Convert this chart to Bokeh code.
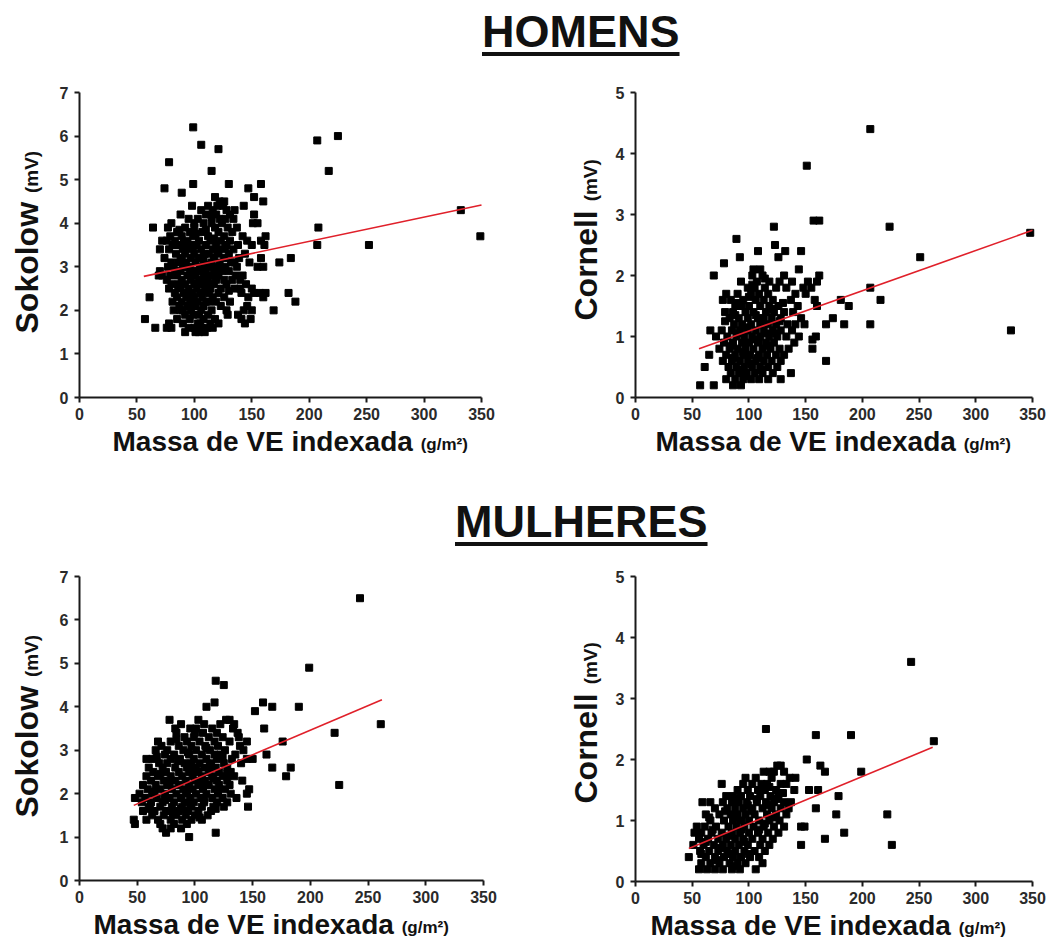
import math
from bokeh.plotting import figure
from bokeh.models import Range1d, FixedTicker, Label, Div
from bokeh.layouts import column, row
from bokeh.embed import file_html
from bokeh.resources import INLINE

# ---------------- data ----------------
x_ticks = [0, 50, 100, 150, 200, 250, 300, 350]
sokolow_ticks = [0, 1, 2, 3, 4, 5, 6, 7]
cornell_ticks = [0, 1, 2, 3, 4, 5]

titles = ["HOMENS", "MULHERES"]
x_title = "Massa de VE indexada"
x_unit = "(g/m²)"
y_unit = "(mV)"

# Homens - Sokolow (x = massa VE indexada, y = mV)
homens_sokolow = [
    (99, 6.2), (106, 5.8), (121, 5.7), (78, 5.4), (115, 5.2), (74, 4.8), (99, 4.9), (89, 4.7),
    (130, 4.9), (147, 4.8), (158, 4.9), (152, 4.6), (160, 4.5), (207, 5.9), (225, 6.0), (217, 5.2),
    (208, 3.9), (207, 3.5), (252, 3.5), (332, 4.3), (349, 3.7), (174, 3.1), (184, 3.2), (182, 2.4),
    (188, 2.2), (169, 2.0), (57, 1.8), (61, 2.3), (64, 3.9), (66, 1.6), (69, 2.8), (70, 2.9),
    (76, 1.6), (92, 1.5),
    (118, 4.6), (122, 4.5), (126, 4.5),
    (98, 4.4), (112, 4.4), (120, 4.4), (125, 4.4), (143, 4.4),
    (106, 4.3), (116, 4.3), (128, 4.3), (135, 4.3),
    (88, 4.2), (110, 4.2), (119, 4.2), (131, 4.2), (152, 4.2),
    (95, 4.1), (103, 4.1), (122, 4.1), (127, 4.1), (134, 4.1),
    (80, 4.0), (108, 4.0), (115, 4.0), (124, 4.0), (151, 4.0), (155, 4.0),
    (77, 3.9), (92, 3.9), (100, 3.9), (118, 3.9), (129, 3.9), (137, 3.9),
    (85, 3.8), (96, 3.8), (107, 3.8), (121, 3.8), (133, 3.8),
    (79, 3.7), (89, 3.7), (99, 3.7), (112, 3.7), (126, 3.7), (142, 3.7), (162, 3.7),
    (72, 3.6), (76, 3.6), (83, 3.6), (94, 3.6), (104, 3.6), (114, 3.6), (123, 3.6), (131, 3.6), (146, 3.6), (158, 3.6),
    (81, 3.5), (87, 3.5), (97, 3.5), (102, 3.5), (110, 3.5), (119, 3.5), (128, 3.5), (138, 3.5), (150, 3.5), (161, 3.5),
    (70, 3.4), (78, 3.4), (90, 3.4), (95, 3.4), (106, 3.4), (116, 3.4), (125, 3.4), (134, 3.4),
    (84, 3.3), (92, 3.3), (100, 3.3), (109, 3.3), (113, 3.3), (121, 3.3), (130, 3.3), (144, 3.3),
    (74, 3.2), (88, 3.2), (97, 3.2), (104, 3.2), (117, 3.2), (126, 3.2), (139, 3.2), (158, 3.2),
    (80, 3.1), (86, 3.1), (93, 3.1), (101, 3.1), (108, 3.1), (115, 3.1), (122, 3.1), (132, 3.1), (148, 3.1),
    (77, 3.0), (90, 3.0), (96, 3.0), (105, 3.0), (112, 3.0), (119, 3.0), (127, 3.0), (137, 3.0), (155, 3.0), (160, 3.0),
    (83, 2.9), (88, 2.9), (99, 2.9), (103, 2.9), (110, 2.9), (117, 2.9), (124, 2.9), (130, 2.9),
    (72, 2.8), (79, 2.8), (85, 2.8), (94, 2.8), (101, 2.8), (108, 2.8), (114, 2.8), (121, 2.8), (136, 2.8), (142, 2.8),
    (76, 2.7), (89, 2.7), (97, 2.7), (106, 2.7), (112, 2.7), (119, 2.7), (126, 2.7), (133, 2.7), (140, 2.7),
    (80, 2.6), (86, 2.6), (92, 2.6), (100, 2.6), (104, 2.6), (111, 2.6), (117, 2.6), (128, 2.6), (145, 2.6),
    (78, 2.5), (88, 2.5), (95, 2.5), (102, 2.5), (109, 2.5), (114, 2.5), (123, 2.5), (135, 2.5), (150, 2.5),
    (83, 2.4), (91, 2.4), (98, 2.4), (105, 2.4), (113, 2.4), (121, 2.4), (141, 2.4), (152, 2.4), (157, 2.4), (162, 2.4),
    (85, 2.3), (93, 2.3), (100, 2.3), (107, 2.3), (116, 2.3), (126, 2.3), (147, 2.3), (160, 2.3),
    (81, 2.2), (89, 2.2), (96, 2.2), (103, 2.2), (110, 2.2), (119, 2.2), (131, 2.2),
    (87, 2.1), (94, 2.1), (101, 2.1), (108, 2.1), (123, 2.1), (146, 2.1),
    (82, 2.0), (90, 2.0), (97, 2.0), (106, 2.0), (115, 2.0), (128, 2.0), (143, 2.0), (150, 2.0),
    (92, 1.9), (99, 1.9), (104, 1.9), (112, 1.9), (129, 1.9), (138, 1.9),
    (85, 1.8), (96, 1.8), (108, 1.8), (118, 1.8), (141, 1.8), (149, 1.8),
    (78, 1.7), (90, 1.7), (103, 1.7), (114, 1.7), (121, 1.7), (144, 1.7),
    (80, 1.6), (95, 1.6), (100, 1.6), (106, 1.6), (111, 1.6), (116, 1.6),
    (101, 1.5), (104, 1.5), (109, 1.5),
    (91, 3.55), (99, 3.45), (108, 3.25), (114, 3.05), (96, 2.85), (104, 2.65), (111, 2.45), (89, 3.15),
    (117, 3.65), (123, 2.95), (86, 2.55), (94, 2.35), (101, 3.75), (107, 2.95), (119, 2.75), (127, 3.45),
    (93, 3.0), (110, 3.85), (98, 2.15), (113, 2.2), (88, 2.0), (105, 1.7), (120, 3.35), (82, 3.0),
    (135, 3.1), (140, 2.5), (100, 4.0), (115, 4.15), (87, 3.85), (130, 2.45),
]

# Homens - Cornell
homens_cornell = [
    (207, 4.4), (151, 3.8), (157, 2.9), (162, 2.9), (122, 2.8), (224, 2.8), (89, 2.6), (251, 2.3),
    (348, 2.7), (331, 1.1), (207, 1.8), (216, 1.6), (207, 1.2), (184, 1.2), (188, 1.5), (181, 1.6),
    (174, 1.3), (168, 1.2), (168, 0.6), (137, 0.4), (57, 0.2), (69, 0.2), (69, 2.0), (78, 2.2),
    (92, 2.3), (108, 2.4), (123, 2.5), (126, 2.3), (132, 2.4), (146, 2.4), (144, 2.1), (162, 2.0),
    (160, 1.9), (158, 1.6), (160, 1.5), (156, 0.95), (156, 0.8), (159, 1.0), (61, 0.5), (65, 0.7),
    (66, 1.1), (77, 1.6),
    (104, 2.1), (110, 2.1),
    (103, 2.0), (112, 2.0), (131, 2.0),
    (93, 1.9), (107, 1.9), (118, 1.9), (127, 1.9), (138, 1.9), (152, 1.9),
    (99, 1.8), (105, 1.8), (114, 1.8), (124, 1.8), (133, 1.8), (148, 1.8), (155, 1.8),
    (80, 1.7), (90, 1.7), (102, 1.7), (109, 1.7), (117, 1.7), (141, 1.7), (150, 1.7),
    (84, 1.6), (95, 1.6), (106, 1.6), (113, 1.6), (121, 1.6), (137, 1.6),
    (88, 1.5), (93, 1.5), (100, 1.5), (110, 1.5), (118, 1.5), (126, 1.5), (143, 1.5),
    (79, 1.4), (86, 1.4), (97, 1.4), (104, 1.4), (115, 1.4), (122, 1.4), (131, 1.4), (139, 1.4),
    (83, 1.3), (91, 1.3), (99, 1.3), (108, 1.3), (113, 1.3), (120, 1.3), (128, 1.3), (146, 1.3),
    (87, 1.2), (94, 1.2), (102, 1.2), (110, 1.2), (117, 1.2), (124, 1.2), (134, 1.2), (141, 1.2), (149, 1.2),
    (76, 1.1), (85, 1.1), (92, 1.1), (99, 1.1), (106, 1.1), (113, 1.1), (121, 1.1), (128, 1.1), (138, 1.1),
    (71, 1.0), (81, 1.0), (89, 1.0), (96, 1.0), (103, 1.0), (110, 1.0), (118, 1.0), (125, 1.0), (133, 1.0), (144, 1.0),
    (78, 0.9), (86, 0.9), (94, 0.9), (100, 0.9), (108, 0.9), (115, 0.9), (122, 0.9), (140, 0.9),
    (74, 0.8), (83, 0.8), (90, 0.8), (97, 0.8), (104, 0.8), (112, 0.8), (119, 0.8), (127, 0.8), (135, 0.8),
    (80, 0.7), (88, 0.7), (95, 0.7), (101, 0.7), (109, 0.7), (116, 0.7), (124, 0.7), (131, 0.7),
    (77, 0.6), (85, 0.6), (92, 0.6), (99, 0.6), (106, 0.6), (113, 0.6), (120, 0.6), (128, 0.6),
    (82, 0.5), (89, 0.5), (96, 0.5), (103, 0.5), (110, 0.5), (117, 0.5), (125, 0.5),
    (84, 0.4), (91, 0.4), (98, 0.4), (105, 0.4), (112, 0.4), (121, 0.4),
    (80, 0.3), (88, 0.3), (95, 0.3), (102, 0.3), (109, 0.3), (117, 0.3), (128, 0.3),
    (86, 0.2), (93, 0.2),
    (90, 1.05), (98, 1.15), (105, 0.95), (112, 1.25), (95, 0.75), (102, 0.55), (108, 0.65), (115, 1.05),
    (88, 1.35), (120, 1.45), (93, 0.45), (100, 1.65), (106, 1.35), (118, 0.85), (84, 0.85), (97, 0.35),
    (111, 0.45), (124, 1.05), (90, 1.55), (103, 1.85), (114, 1.95), (86, 0.65), (130, 1.55), (127, 1.25),
    (79, 1.25),
]

# Mulheres - Sokolow
mulheres_sokolow = [
    (243, 6.5), (199, 4.9), (261, 3.6), (221, 3.4), (225, 2.2), (190, 4.0), (167, 4.0), (159, 4.1),
    (152, 3.9), (160, 3.5), (176, 3.2), (162, 2.9), (167, 2.6), (183, 2.6), (179, 2.4), (118, 4.6),
    (125, 4.5), (110, 4.0), (117, 4.1), (95, 1.0), (118, 1.1), (75, 1.1), (48, 1.3), (47, 1.4),
    (48, 1.9), (58, 2.8), (146, 1.7), (147, 2.1), (145, 2.0), (141, 2.3), (150, 2.8), (145, 3.2),
    (138, 3.3),
    (78, 3.7), (103, 3.7), (127, 3.7), (130, 3.7),
    (88, 3.6), (108, 3.6), (122, 3.6), (134, 3.6),
    (83, 3.5), (96, 3.5), (101, 3.5), (115, 3.5), (133, 3.5),
    (84, 3.4), (107, 3.4), (119, 3.4), (137, 3.4),
    (91, 3.3), (99, 3.3), (112, 3.3), (124, 3.3),
    (68, 3.2), (79, 3.2), (93, 3.2), (104, 3.2), (117, 3.2), (130, 3.2),
    (71, 3.1), (86, 3.1), (97, 3.1), (109, 3.1), (120, 3.1), (139, 3.1),
    (66, 3.0), (76, 3.0), (90, 3.0), (101, 3.0), (113, 3.0), (126, 3.0), (142, 3.0),
    (74, 2.9), (82, 2.9), (95, 2.9), (106, 2.9), (117, 2.9), (122, 2.9), (135, 2.9),
    (63, 2.8), (79, 2.8), (87, 2.8), (99, 2.8), (110, 2.8), (119, 2.8), (132, 2.8), (145, 2.8),
    (69, 2.7), (76, 2.7), (91, 2.7), (97, 2.7), (104, 2.7), (114, 2.7), (125, 2.7), (140, 2.7),
    (60, 2.6), (72, 2.6), (83, 2.6), (93, 2.6), (101, 2.6), (108, 2.6), (118, 2.6), (128, 2.6),
    (64, 2.5), (75, 2.5), (86, 2.5), (95, 2.5), (103, 2.5), (112, 2.5), (121, 2.5), (131, 2.5),
    (58, 2.4), (68, 2.4), (79, 2.4), (89, 2.4), (98, 2.4), (106, 2.4), (115, 2.4), (124, 2.4), (134, 2.4),
    (62, 2.3), (73, 2.3), (83, 2.3), (92, 2.3), (100, 2.3), (109, 2.3), (119, 2.3), (128, 2.3),
    (55, 2.2), (66, 2.2), (76, 2.2), (86, 2.2), (95, 2.2), (103, 2.2), (112, 2.2), (121, 2.2), (130, 2.2),
    (59, 2.1), (70, 2.1), (80, 2.1), (90, 2.1), (98, 2.1), (107, 2.1), (117, 2.1), (126, 2.1),
    (52, 2.0), (63, 2.0), (74, 2.0), (84, 2.0), (93, 2.0), (101, 2.0), (110, 2.0), (120, 2.0), (131, 2.0),
    (57, 1.9), (67, 1.9), (78, 1.9), (88, 1.9), (96, 1.9), (105, 1.9), (115, 1.9), (124, 1.9), (136, 1.9),
    (54, 1.8), (62, 1.8), (72, 1.8), (82, 1.8), (91, 1.8), (99, 1.8), (108, 1.8), (119, 1.8), (128, 1.8),
    (60, 1.7), (70, 1.7), (80, 1.7), (89, 1.7), (97, 1.7), (106, 1.7), (116, 1.7), (125, 1.7),
    (55, 1.6), (65, 1.6), (75, 1.6), (86, 1.6), (94, 1.6), (103, 1.6), (114, 1.6),
    (63, 1.5), (73, 1.5), (84, 1.5), (92, 1.5), (100, 1.5), (111, 1.5),
    (58, 1.4), (68, 1.4), (79, 1.4), (89, 1.4), (97, 1.4), (106, 1.4),
    (70, 1.3), (82, 1.3), (93, 1.3),
    (72, 1.2), (79, 1.2), (88, 1.2),
    (70, 2.45), (78, 2.25), (85, 2.75), (92, 2.05), (99, 2.55), (106, 2.25), (113, 2.65), (120, 2.05),
    (88, 1.65), (96, 1.75), (104, 1.45), (67, 2.85), (74, 1.85), (81, 1.55), (110, 3.05), (116, 2.35),
    (124, 2.85), (94, 2.95), (100, 3.4), (128, 2.45), (65, 2.05), (61, 1.65), (84, 3.25), (118, 1.65),
    (108, 1.85),
]

# Mulheres - Cornell
mulheres_cornell = [
    (243, 3.6), (263, 2.3), (190, 2.4), (159, 2.4), (115, 2.5), (199, 1.8), (167, 1.8), (163, 1.9),
    (151, 2.0), (153, 1.5), (161, 1.5), (159, 1.2), (179, 1.4), (177, 1.1), (184, 0.8), (167, 0.7),
    (146, 0.6), (222, 1.1), (226, 0.6), (47, 0.4), (106, 0.2), (76, 1.6), (59, 1.3), (146, 0.9),
    (149, 0.9),
    (125, 1.9), (128, 1.9),
    (113, 1.8), (118, 1.8), (122, 1.8), (131, 1.8),
    (97, 1.7), (106, 1.7), (120, 1.7), (136, 1.7), (141, 1.7),
    (95, 1.6), (103, 1.6), (111, 1.6), (116, 1.6), (128, 1.6), (133, 1.6),
    (90, 1.5), (99, 1.5), (108, 1.5), (114, 1.5), (124, 1.5), (140, 1.5),
    (80, 1.4), (86, 1.4), (93, 1.4), (101, 1.4), (110, 1.4), (119, 1.4), (126, 1.4),
    (66, 1.3), (77, 1.3), (85, 1.3), (91, 1.3), (98, 1.3), (107, 1.3), (115, 1.3), (122, 1.3), (131, 1.3), (137, 1.3),
    (70, 1.2), (81, 1.2), (88, 1.2), (95, 1.2), (103, 1.2), (112, 1.2), (120, 1.2), (128, 1.2), (135, 1.2),
    (62, 1.1), (74, 1.1), (84, 1.1), (90, 1.1), (97, 1.1), (105, 1.1), (116, 1.1), (124, 1.1), (133, 1.1),
    (66, 1.0), (78, 1.0), (86, 1.0), (93, 1.0), (100, 1.0), (109, 1.0), (118, 1.0), (127, 1.0),
    (54, 0.9), (61, 0.9), (71, 0.9), (82, 0.9), (89, 0.9), (96, 0.9), (104, 0.9), (113, 0.9), (122, 0.9), (131, 0.9),
    (52, 0.8), (58, 0.8), (67, 0.8), (76, 0.8), (85, 0.8), (92, 0.8), (100, 0.8), (108, 0.8), (117, 0.8), (126, 0.8),
    (56, 0.7), (64, 0.7), (73, 0.7), (80, 0.7), (88, 0.7), (95, 0.7), (103, 0.7), (112, 0.7), (121, 0.7),
    (51, 0.6), (60, 0.6), (69, 0.6), (77, 0.6), (84, 0.6), (91, 0.6), (99, 0.6), (110, 0.6), (118, 0.6),
    (57, 0.5), (65, 0.5), (73, 0.5), (81, 0.5), (88, 0.5), (96, 0.5), (105, 0.5), (114, 0.5),
    (62, 0.4), (70, 0.4), (78, 0.4), (86, 0.4), (93, 0.4), (101, 0.4), (109, 0.4),
    (58, 0.3), (66, 0.3), (74, 0.3), (83, 0.3), (90, 0.3), (97, 0.3), (112, 0.3),
    (56, 0.2), (63, 0.2), (70, 0.2), (77, 0.2), (85, 0.2), (92, 0.2),
    (68, 0.85), (75, 0.55), (82, 0.75), (89, 1.05), (96, 0.65), (102, 1.15), (109, 0.85), (116, 1.25),
    (72, 0.35), (79, 1.15), (86, 0.25), (93, 0.85), (100, 0.45), (107, 1.35), (114, 0.95), (121, 1.05),
    (62, 0.65), (58, 0.45), (65, 1.05), (125, 1.35), (118, 1.55), (130, 1.45), (90, 1.35), (84, 0.45),
    (99, 1.25),
]

# regression lines (end points)
homens_sokolow_fit_x = [56, 350]
homens_sokolow_fit_y = [2.78, 4.42]
homens_cornell_fit_x = [56, 350]
homens_cornell_fit_y = [0.80, 2.74]
mulheres_sokolow_fit_x = [47, 262]
mulheres_sokolow_fit_y = [1.73, 4.16]
mulheres_cornell_fit_x = [47, 262]
mulheres_cornell_fit_y = [0.54, 2.20]

# ---------------- helpers ----------------
FONT = "Liberation Sans"
# Arial/Liberation Sans Bold advance widths (em)
W = {"S": .667, "o": .611, "k": .556, "l": .278, "w": .778, "C": .722, "r": .389, "n": .611,
     "e": .556, " ": .278, "M": .833, "a": .556, "s": .556, "d": .611, "V": .667, "E": .667,
     "i": .278, "x": .556}
BASE_SHIFT = 0.33  # renderer places the alphabetic baseline this many em too low


def tw(s, size):
    return sum(W.get(c, .6) for c in s) * size


def panel(pts, fx, fy, ymax, yticks, ylab, w, h, left, right, top, bottom, ylx, yly, xlx):
    # pixel layout: axes at left/right (x=0..350) and top/bottom (y=ymax..0), the frame fills the canvas
    kx = (right - left) / 350.0
    ky = (bottom - top) / float(ymax)
    xr = Range1d(-left / kx, (w - left) / kx)
    yr = Range1d(-(h - bottom) / ky, ymax + top / ky)
    p = figure(width=w, height=h, output_backend="svg", toolbar_location=None, title=None,
               x_range=xr, y_range=yr, min_border=0)
    p.outline_line_color = None
    p.xgrid.visible = False
    p.ygrid.visible = False
    p.background_fill_color = "white"
    p.xaxis.ticker = FixedTicker(ticks=x_ticks)
    p.yaxis.ticker = FixedTicker(ticks=yticks)
    p.xaxis.fixed_location = 0
    p.yaxis.fixed_location = 0
    p.xaxis.bounds = (0, 350)
    p.yaxis.bounds = (0, ymax)
    for ax in (p.xaxis[0], p.yaxis[0]):
        ax.axis_line_width = 2
        ax.axis_line_color = "#1a1a1a"
        ax.major_tick_line_width = 2
        ax.major_tick_line_color = "#1a1a1a"
        ax.major_tick_in = 0
        ax.major_tick_out = 5
        ax.minor_tick_line_color = None
        ax.major_label_text_font = FONT
        ax.major_label_text_font_style = "bold"
        ax.major_label_text_font_size = "16px"
        ax.major_label_text_color = "#2a2a2a"
        ax.axis_label = None
    p.xaxis.major_label_standoff = 5
    p.yaxis.major_label_standoff = 6

    xs = [q[0] for q in pts]
    ys = [q[1] for q in pts]
    p.scatter(xs, ys, marker="square", size=7, color="black")
    p.line(fx, fy, line_color="#e0202a", line_width=1.6)

    base_y = h - bottom  # screen y of the x axis, measured from the canvas bottom
    # y axis title (big name + small unit), rotated
    big, small = 32, 19
    p.add_layout(Label(x=left + ylx - BASE_SHIFT * big, y=base_y + yly, x_units="screen",
                       y_units="screen", text=ylab, angle=math.pi / 2, text_font=FONT,
                       text_font_style="bold", text_font_size=f"{big}px", text_color="#111111",
                       text_align="left", text_baseline="alphabetic"))
    p.add_layout(Label(x=left + ylx - BASE_SHIFT * small, y=base_y + yly + tw(ylab + " ", big),
                       x_units="screen", y_units="screen", text=y_unit, angle=math.pi / 2,
                       text_font=FONT, text_font_style="bold", text_font_size=f"{small}px",
                       text_color="#111111", text_align="left", text_baseline="alphabetic"))
    # x axis title
    bx, sx = 28, 17
    p.add_layout(Label(x=left + xlx, y=base_y - 53 + BASE_SHIFT * bx, x_units="screen",
                       y_units="screen", text=x_title, text_font=FONT, text_font_style="bold",
                       text_font_size=f"{bx}px", text_color="#111111", text_align="left",
                       text_baseline="alphabetic"))
    p.add_layout(Label(x=left + xlx + tw(x_title + " ", bx), y=base_y - 53 + BASE_SHIFT * sx,
                       x_units="screen", y_units="screen", text=x_unit, text_font=FONT,
                       text_font_style="bold", text_font_size=f"{sx}px", text_color="#111111",
                       text_align="left", text_baseline="alphabetic"))
    return p


def title_div(text, left, top, h):
    html = ('<div style="font-family:\'Liberation Sans\',Arial,sans-serif;font-weight:bold;'
            'font-size:45px;line-height:45px;color:#111;white-space:nowrap;'
            f'padding-left:{left}px;padding-top:{top}px;text-decoration:underline;'
            'text-decoration-thickness:4px;text-underline-offset:5px">' + text + '</div>')
    return Div(text=html, width=1061, height=h, margin=0)


f1 = panel(homens_sokolow, homens_sokolow_fit_x, homens_sokolow_fit_y, 7, sokolow_ticks, "Sokolow",
           530, 420, 79, 481, 32, 337, -42, 64, 33)
f2 = panel(homens_cornell, homens_cornell_fit_x, homens_cornell_fit_y, 5, cornell_ticks, "Cornell",
           531, 420, 105, 502, 32, 337, -39, 77, 20)
f3 = panel(mulheres_sokolow, mulheres_sokolow_fit_x, mulheres_sokolow_fit_y, 7, sokolow_ticks, "Sokolow",
           530, 382, 79, 483, 16, 320, -42, 63, 14)
f4 = panel(mulheres_cornell, mulheres_cornell_fit_x, mulheres_cornell_fit_y, 5, cornell_ticks, "Cornell",
           531, 382, 105, 502, 16, 321, -39, 78, 15)

layout = column(
    title_div(titles[0], 482, 9, 60),
    row(f1, f2, spacing=0),
    title_div(titles[1], 455, 19, 80),
    row(f3, f4, spacing=0),
    spacing=0,
)

open("out.html", "w").write(file_html(layout, INLINE))
